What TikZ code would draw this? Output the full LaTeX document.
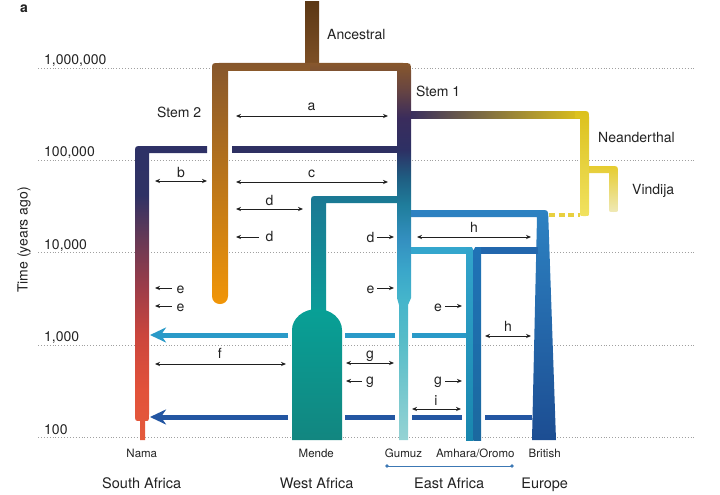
\documentclass[tikz,border=0pt]{standalone}
\usepackage{fontspec}
\setmainfont{TeX Gyre Heros}
\usetikzlibrary{arrows.meta}
\definecolor{gridc}{HTML}{A0A0A0}
\definecolor{txt}{HTML}{222222}
\definecolor{ancT}{HTML}{5C3815}
\definecolor{ancB}{HTML}{7E5026}
\definecolor{stwoT}{HTML}{87572C}
\definecolor{stwoM}{HTML}{D8861A}
\definecolor{stwoB}{HTML}{F29607}
\definecolor{s1a}{HTML}{87572C}
\definecolor{s1b}{HTML}{6A4640}
\definecolor{s1c}{HTML}{3A2C5C}
\definecolor{s1d}{HTML}{2D3064}
\definecolor{s1e}{HTML}{1F5E82}
\definecolor{s1f}{HTML}{1F7D9C}
\definecolor{s1g}{HTML}{3490C0}
\definecolor{s1h}{HTML}{3AA6CA}
\definecolor{s1i}{HTML}{45B5CB}
\definecolor{s1j}{HTML}{56BCC8}
\definecolor{s1k}{HTML}{96D3D4}
\definecolor{n1}{HTML}{2E3166}
\definecolor{n2}{HTML}{2F3265}
\definecolor{n3}{HTML}{683955}
\definecolor{n4}{HTML}{9A3C49}
\definecolor{n5}{HTML}{CB463D}
\definecolor{n6}{HTML}{E2523A}
\definecolor{n7}{HTML}{E45A3C}
\definecolor{navyc}{HTML}{2E3062}
\definecolor{neaL}{HTML}{3A2F5E}
\definecolor{neaM}{HTML}{A48A3A}
\definecolor{neaR}{HTML}{DCC11C}
\definecolor{neaB}{HTML}{F1E260}
\definecolor{vinT}{HTML}{E6CC2E}
\definecolor{vinB}{HTML}{EFE9B6}
\definecolor{dashy}{HTML}{E8D040}
\definecolor{menT}{HTML}{1B7894}
\definecolor{menB}{HTML}{0B9D98}
\definecolor{botT}{HTML}{08A096}
\definecolor{botB}{HTML}{128680}
\definecolor{briT}{HTML}{2D82C2}
\definecolor{briM}{HTML}{2263AA}
\definecolor{briB}{HTML}{1C4D92}
\definecolor{amLT}{HTML}{33A5CC}
\definecolor{amLB}{HTML}{1886AE}
\definecolor{amRT}{HTML}{2072B6}
\definecolor{amRB}{HTML}{1B699F}
\definecolor{amBarL}{HTML}{34A6CD}
\definecolor{amBarR}{HTML}{2267AD}
\definecolor{migl}{HTML}{2A9AC8}
\definecolor{migd}{HTML}{2356A2}
\definecolor{eastl}{HTML}{3C78B4}
\pgfdeclareverticalshading{stemone}{100bp}{color(0bp)=(s1k); color(25bp)=(s1k); color(38.26bp)=(s1j); color(43.57bp)=(s1i); color(47.55bp)=(s1h); color(51.53bp)=(s1g); color(56.17bp)=(s1f); color(59.75bp)=(s1e); color(63.46bp)=(s1d); color(67.71bp)=(s1c); color(71.68bp)=(s1b); color(75bp)=(s1a); color(100bp)=(s1a)}
\pgfdeclareverticalshading{namash}{100bp}{color(0bp)=(n7); color(25bp)=(n7); color(33.5bp)=(n6); color(42.86bp)=(n5); color(51.36bp)=(n4); color(59.01bp)=(n3); color(66.67bp)=(n2); color(75bp)=(n1); color(100bp)=(n1)}
\begin{document}
\begin{tikzpicture}[x=1pt,y=-1pt,
  grid/.style={draw=gridc, line width=0.8pt, dash pattern=on 0.9pt off 2pt},
  lab/.style={font=\fontsize{14}{16}\selectfont, inner sep=0pt, text=txt},
  tick/.style={lab, anchor=base west},
  albl/.style={lab, anchor=base},
  poplab/.style={font=\fontsize{11.5}{13}\selectfont, inner sep=0pt, text=txt, anchor=base},
  reglab/.style={font=\fontsize{14.5}{16}\selectfont, inner sep=0pt, text=txt, anchor=base},
  thinl/.style={draw=black!88, line width=0.75pt},
  oneway/.style={thinl, -{Stealth[length=5pt,width=4.2pt]}},
  twoway/.style={thinl, {Stealth[length=5pt,width=4.2pt]}-{Stealth[length=5pt,width=4.2pt]}},
  mig/.style={line width=5pt},
  migtip/.style={mig, -{Stealth[length=16pt,width=15pt,inset=5pt]}}
]
\useasboundingbox (0,0) rectangle (720,495);

% time grid
\foreach \yy in {68,160.5,252.5,345,437.5}
  \draw[grid] (38,\yy) -- (695,\yy);

% axis labels
\node[lab, font=\fontsize{14}{16}\selectfont\bfseries, anchor=base] (panel) at (24,12.7) {a};
\node[tick] (t1m) at (44,65) {1,000,000};
\node[tick] (t100k) at (44,156.5) {100,000};
\node[tick] (t10k) at (44,249) {10,000};
\node[tick] (t1k) at (44,341.5) {1,000};
\node[tick] (t100) at (44,434) {100};
\node[lab, rotate=90, anchor=base west] (ylab) at (27.5,293) {Time (years ago)};

% ancestral
\shade[top color=ancT, bottom color=ancB] (305,2) rectangle (319,66);

% Nama + left navy bar
\shade[shading=namash] (207,146) -- (142,146) .. controls (135,146) .. (135,153)
  -- (135,414) .. controls (135,421) .. (140,421) -- (140,440) -- (145,440) -- (145,421)
  .. controls (149,421) .. (149,414) -- (149,153) -- (207,153) -- cycle;
% right navy bar
\fill[navyc] (232,146) rectangle (397,153);

% Stem 2
\shade[top color=stwoT, middle color=stwoM, bottom color=stwoB]
  (228,296) -- (228,71) -- (312,71) -- (312,63) -- (219,63) .. controls (212,63) .. (212,70)
  -- (212,296) .. controls (212,306.7) and (228,306.7) .. (228,296) -- cycle;

% Stem 1 / Gumuz
\shade[shading=stemone] (310,63) -- (403,63) .. controls (411,63) .. (411,71)
  -- (411,298) -- (408,305) -- (408,440) -- (399,440) -- (399,305) -- (397,298)
  -- (397,71) -- (310,71) -- cycle;

% Neanderthal
\shade[left color=neaL, middle color=neaM, right color=neaR] (411,111) rectangle (582,118);
\shade[top color=neaR, bottom color=neaB] (575,111) -- (582,111) .. controls (589,111) .. (589,118)
  -- (589,213) .. controls (589,216) .. (586,216) -- (583,216) .. controls (580,216) .. (580,213)
  -- (580,118) -- (575,118) -- cycle;
% Vindija
\shade[top color=vinT, bottom color=vinB] (589,166) -- (611,166) .. controls (618,166) .. (618,173)
  -- (618,208) .. controls (618,212) .. (613.5,212) .. controls (609,212) .. (609,208)
  -- (609,173) -- (589,173) -- cycle;
\draw[dashy, line width=3.5pt, dash pattern=on 6pt off 3.5pt] (549,215) -- (580,215);

% Mende
\shade[top color=menT, bottom color=menB] (397,196) -- (318,196) .. controls (311,196) .. (311,203)
  -- (311,314) -- (326,314) -- (326,203) -- (397,203) -- cycle;
\shade[top color=botT, bottom color=botB] (292,440) -- (292,330)
  .. controls (292,318.4) and (303.2,309) .. (317,309)
  .. controls (330.8,309) and (342,318.4) .. (342,330) -- (342,440) -- cycle;

% British
\shade[top color=briT, middle color=briM, bottom color=briB] (411,210) -- (541,210)
  .. controls (548,210) .. (548.3,217) -- (556,440) -- (532,440) -- (537,217) -- (411,217) -- cycle;

% Amhara/Oromo
\fill[amBarL] (411,247) rectangle (473.5,254);
\fill[amBarR] (473.5,247) rectangle (537.5,254);
\shade[top color=amLT, bottom color=amLB] (466,247) rectangle (473.5,440);
\shade[top color=amRT, bottom color=amRB] (473.5,247) rectangle (481,440);
\fill[white] (472,247) -- (475,247) -- (473.5,250) -- cycle;

% migration arrows
\draw[mig, draw=migl] (466,335) -- (412,335) (395,335) -- (345,335);
\draw[migtip, draw=migl, fill=migl] (288,335) -- (150,335);
\draw[mig, draw=migd] (532,417) -- (485,417) (462,417) -- (412,417) (395,417) -- (345,417);
\draw[migtip, draw=migd, fill=migd] (288,417) -- (150,417);

% thin arrows and labels
\draw[twoway] (236,116) coordinate (a1) -- (388,116) coordinate (a2);
\node[albl] (la) at (311.5,110.7) {a};
\draw[twoway] (155,181) coordinate (b1) -- (207,181) coordinate (b2);
\node[albl] (lb) at (181,177) {b};
\draw[twoway] (236,182) coordinate (c1) -- (388,182) coordinate (c2);
\node[albl] (lc) at (311.5,177) {c};
\draw[twoway] (236,209) coordinate (d1) -- (303,209) coordinate (d2);
\node[albl] (ld1) at (269.5,205.7) {d};
\draw[oneway] (259,237) coordinate (d3) -- (236,237) coordinate (d4);
\node[albl] (ld2) at (269.5,241.7) {d};
\draw[oneway] (377,237) coordinate (d5) -- (394,237) coordinate (d6);
\node[albl] (ld3) at (370.5,242) {d};
\draw[twoway] (417,237) coordinate (h1) -- (531,237) coordinate (h2);
\node[albl] (lh1) at (474,232) {h};
\draw[oneway] (172,288) coordinate (e1) -- (155,288) coordinate (e2);
\node[albl] (le1) at (180.5,293) {e};
\draw[oneway] (172,306) coordinate (e3) -- (155,306) coordinate (e4);
\node[albl] (le2) at (180.5,311) {e};
\draw[oneway] (377,288) coordinate (e5) -- (394,288) coordinate (e6);
\node[albl] (le3) at (370.5,293) {e};
\draw[oneway] (445,306) coordinate (e7) -- (462,306) coordinate (e8);
\node[albl] (le4) at (438,311) {e};
\draw[twoway] (485,336) coordinate (h3) -- (531,336) coordinate (h4);
\node[albl] (lh2) at (508,331) {h};
\draw[twoway] (155,364) coordinate (f1) -- (286,364) coordinate (f2);
\node[albl] (lf) at (219.7,358) {f};
\draw[twoway] (346,363) coordinate (g1) -- (394,363) coordinate (g2);
\node[albl] (lg1) at (370,358) {g};
\draw[oneway] (362,381) coordinate (g3) -- (346,381) coordinate (g4);
\node[albl] (lg2) at (370,384) {g};
\draw[oneway] (445,381) coordinate (g5) -- (462,381) coordinate (g6);
\node[albl] (lg3) at (438,384) {g};
\draw[twoway] (412,409) coordinate (i1) -- (461,409) coordinate (i2);
\node[albl] (li) at (436,405) {i};

% stem labels
\node[tick] (anc) at (327,40) {Ancestral};
\node[tick] (st1) at (416,96) {Stem 1};
\node[tick] (st2) at (157,117.3) {Stem 2};
\node[tick] (nea) at (598,142) {Neanderthal};
\node[tick] (vin) at (632,194) {Vindija};

% population labels
\node[poplab] (pnama) at (141.8,457.3) {Nama};
\node[poplab] (pmende) at (316.3,457.3) {Mende};
\node[poplab] (pgumuz) at (403.5,457.3) {Gumuz};
\node[poplab] (pamh) at (475.3,457.3) {Amhara/Oromo};
\node[poplab] (pbri) at (544.7,457.3) {British};

% east africa bracket
\coordinate (ea1) at (387,466);
\coordinate (ea2) at (512,466);
\draw[eastl, line width=1pt] (ea1) -- (ea2);
\fill[eastl] (ea1) circle (1.8) (ea2) circle (1.8);

% region labels
\node[reglab] (rsa) at (141.7,488.7) {South Africa};
\node[reglab] (rwa) at (316.7,488.7) {West Africa};
\node[reglab] (rea) at (449.2,488.7) {East Africa};
\node[reglab] (reu) at (544.7,488.7) {Europe};
\end{tikzpicture}
\end{document}
